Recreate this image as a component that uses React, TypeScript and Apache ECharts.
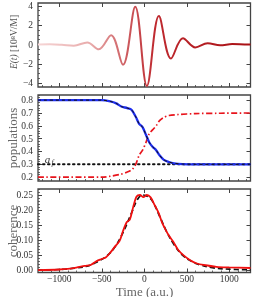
import React, { useEffect, useRef } from "react";
import * as echarts from "echarts";

// ---- Data ----
// Panel 1: electric field E(t) [10^8 V/M] — successive extrema of the pulse
const fieldTime = [-1250, -1110, -970, -830, -670, -535, -390, -250, -106, 31, 172, 314, 455, 600, 745, 893, 1035, 1180, 1250];
const fieldValue = [0, 0.02, -0.03, -0.12, 0.22, -0.5, 0.97, -2.1, 3.9, -4.3, 2.95, -1.45, 0.65, -0.3, 0.14, -0.08, 0.05, 0.01, 0];

// Panel 2: populations
const popTime = [-1250, -500, -400, -330, -270, -200, -150, -100, -60, -20, 20, 60, 100, 140, 180, 230, 290, 350, 450, 600, 1250];
const popBlue = [0.8, 0.8, 0.79, 0.775, 0.75, 0.738, 0.725, 0.67, 0.615, 0.59, 0.53, 0.47, 0.435, 0.41, 0.37, 0.335, 0.318, 0.308, 0.302, 0.3, 0.3];
const popRedTime = [-1250, -500, -400, -280, -200, -140, -100, -60, -20, 20, 60, 100, 140, 180, 230, 290, 400, 600, 900, 1250];
const popRed = [0.2, 0.2, 0.207, 0.222, 0.24, 0.262, 0.3, 0.37, 0.41, 0.47, 0.54, 0.57, 0.6, 0.64, 0.665, 0.68, 0.688, 0.695, 0.698, 0.7];
const afTime = [-1250, 1250];
const afValue = [0.3, 0.3];

// Panel 3: coherence
const cohTime = [-1250, -1000, -900, -800, -700, -630, -560, -500, -450, -400, -340, -290, -250, -205, -170, -130, -90, -50, -10, 30, 75, 125, 170, 210, 250, 290, 340, 400, 460, 540, 620, 700, 850, 1000, 1250];
const cohRed = [0, 0.002, 0.004, 0.008, 0.014, 0.017, 0.03, 0.037, 0.043, 0.058, 0.08, 0.097, 0.13, 0.16, 0.168, 0.21, 0.245, 0.25, 0.243, 0.25, 0.242, 0.215, 0.19, 0.158, 0.135, 0.115, 0.095, 0.067, 0.05, 0.033, 0.022, 0.017, 0.011, 0.009, 0.007];
const cohRefTime = [-1250, -1000, -800, -650, -550, -450, -350, -250, -150, -80, -20, 40, 100, 180, 260, 350, 450, 550, 650, 800, 1000, 1250];
const cohRef = [0, 0.002, 0.007, 0.015, 0.028, 0.045, 0.075, 0.125, 0.19, 0.235, 0.25, 0.245, 0.228, 0.18, 0.13, 0.085, 0.05, 0.03, 0.018, 0.008, 0.003, 0.001];

// Tick values
const xTicks = [-1000, -500, 0, 500, 1000];
const yTicksField = [-4, -2, 0, 2, 4];
const yTicksPop = [0.2, 0.3, 0.4, 0.5, 0.6, 0.7, 0.8];
const yTicksCoh = [0, 0.05, 0.1, 0.15, 0.2, 0.25];

const FONT = "Liberation Serif";
const FRAME = "#444";

function pairs(xs: number[], ys: number[]) {
  return xs.map((x, i) => [x, ys[i]]);
}
function minorTicks(from: number, to: number, step: number) {
  const out: number[] = [];
  const n = Math.round((to - from) / step);
  for (let i = 0; i <= n; i++) out.push(+(from + i * step).toFixed(4));
  return out;
}
const fmtMinus = (v: number, d = 0) => {
  const s = Math.abs(v).toFixed(d);
  return v < -1e-9 ? "\u2212" + s : s;
};

export default function App() {
  const ref = useRef<HTMLDivElement>(null);
  useEffect(() => {
    if (!ref.current) return;
    const chart = echarts.init(ref.current, undefined, { renderer: "svg" });

    const grids = [
      { left: 38, top: 3, width: 212.5, height: 84 },
      { left: 38, top: 95, width: 212.5, height: 86 },
      { left: 38, top: 189, width: 212.5, height: 83.5 },
    ];
    const yRanges = [
      { min: -4.4, max: 4.3, ticks: yTicksField, minor: minorTicks(-4, 4, 0.5), dec: 0 },
      { min: 0.17, max: 0.84, ticks: yTicksPop, minor: minorTicks(0.18, 0.84, 0.02), dec: 1 },
      { min: -0.008, max: 0.27, ticks: yTicksCoh, minor: minorTicks(0, 0.27, 0.01), dec: 2 },
    ];
    const xMinor = minorTicks(-1200, 1200, 100);

    const baseAxis = (g: number, min: number, max: number, position: string) => ({
      type: "value",
      gridIndex: g,
      min,
      max,
      position,
      axisLine: { show: false, onZero: false },
      splitLine: { show: false },
    });

    const xAxis: any[] = [];
    const yAxis: any[] = [];
    for (let g = 0; g < 3; g++) {
      xAxis.push({
        ...baseAxis(g, -1250, 1250, "bottom"),
        axisTick: { inside: true, length: 4, customValues: xTicks, lineStyle: { color: FRAME, width: 1 } },
        axisLabel: g === 2
          ? { show: true, customValues: xTicks, formatter: (v: number) => fmtMinus(v), fontFamily: FONT, fontSize: 9.5, color: "#333", margin: 1 }
          : { show: false },
      });
      xAxis.push({
        ...baseAxis(g, -1250, 1250, "bottom"),
        axisTick: { inside: true, length: 2, customValues: xMinor, lineStyle: { color: FRAME, width: 0.8 } },
        axisLabel: { show: false },
      });
      xAxis.push({
        ...baseAxis(g, -1250, 1250, "top"),
        axisTick: { inside: true, length: 4, customValues: xTicks, lineStyle: { color: FRAME, width: 1 } },
        axisLabel: { show: false },
      });
      const yr = yRanges[g];
      yAxis.push({
        ...baseAxis(g, yr.min, yr.max, "left"),
        axisTick: { inside: true, length: 4, customValues: yr.ticks, lineStyle: { color: FRAME, width: 1 } },
        axisLabel: { show: true, customValues: yr.ticks, formatter: (v: number) => fmtMinus(v, yr.dec), fontFamily: FONT, fontSize: 9.5, color: "#333", margin: 5 },
      });
      yAxis.push({
        ...baseAxis(g, yr.min, yr.max, "left"),
        axisTick: { inside: true, length: 2, customValues: yr.minor, lineStyle: { color: FRAME, width: 0.8 } },
        axisLabel: { show: false },
      });
      yAxis.push({
        ...baseAxis(g, yr.min, yr.max, "right"),
        axisTick: { inside: true, length: 4, customValues: yr.ticks, lineStyle: { color: FRAME, width: 1 } },
        axisLabel: { show: false },
      });
    }

    const line = (g: number, data: number[][], lineStyle: any, extra: any = {}) => ({
      type: "line",
      xAxisIndex: g * 3,
      yAxisIndex: g * 3,
      data,
      showSymbol: false,
      symbol: "none",
      lineStyle,
      silent: true,
      ...extra,
    });

    const option: any = {
      animation: false,
      grid: grids.map((gr) => ({ ...gr, show: true, borderColor: FRAME, borderWidth: 1.3, backgroundColor: "transparent" })),
      xAxis,
      yAxis,
      series: [
        line(0, pairs(fieldTime, fieldValue), {
          width: 2,
          color: new echarts.graphic.LinearGradient(0, 0, 1, 0, [
            { offset: 0, color: "#f6d6d6" },
            { offset: 0.25, color: "#e8aaaa" },
            { offset: 0.42, color: "#cc5a5e" },
            { offset: 0.55, color: "#bf2a30" },
            { offset: 1, color: "#a81014" },
          ]),
        }, { smooth: 0.36 }),
        line(1, pairs(afTime, afValue), { width: 2, color: "#111", type: [1.5, 3.5], cap: "round" }),
        line(1, pairs(popRedTime, popRed), { width: 1.7, color: "#e8141c", type: [6, 2.5, 1.5, 2.5] }, { smooth: 0.3 }),
        line(1, pairs(popTime, popBlue), { width: 2.3, color: "#1e2ef0" }, { smooth: 0.3 }),
        line(1, pairs(popTime, popBlue), { width: 1, color: "#111", type: [3, 3] }, { smooth: 0.3 }),
        line(2, pairs(cohRefTime, cohRef), { width: 1.7, color: "#111", type: [5, 3] }, { smooth: 0.4 }),
        line(2, pairs(cohTime, cohRed), { width: 1.8, color: "#f01010" }, { smooth: 0.3 }),
      ],
      graphic: [
        {
          type: "text",
          x: 14,
          y: 42,
          rotation: Math.PI / 2,
          style: {
            text: "{i|E(t)} [10\u2078V/M]",
            align: "center",
            verticalAlign: "middle",
            fontFamily: FONT,
            fontSize: 9.5,
            fill: "#555",
            rich: { i: { fontStyle: "italic", fontFamily: FONT, fontSize: 9.5, fill: "#555" } },
          },
        },
        {
          type: "text",
          x: 12.5,
          y: 138,
          rotation: Math.PI / 2,
          style: { text: "populations", align: "center", verticalAlign: "middle", fontFamily: FONT, fontSize: 13, fill: "#666" },
        },
        {
          type: "text",
          x: 12.5,
          y: 231,
          rotation: Math.PI / 2,
          style: { text: "coherence", align: "center", verticalAlign: "middle", fontFamily: FONT, fontSize: 13, fill: "#666" },
        },
        {
          type: "text",
          x: 144.5,
          y: 291,
          style: { text: "Time (a.u.)", align: "center", verticalAlign: "middle", fontFamily: FONT, fontSize: 13, fill: "#666" },
        },
        {
          type: "text",
          x: 47.5,
          y: 158.5,
          style: { text: "a", align: "center", verticalAlign: "middle", fontFamily: FONT, fontStyle: "italic", fontSize: 11, fill: "#333" },
        },
        {
          type: "text",
          x: 52.5,
          y: 162,
          style: { text: "f", align: "center", verticalAlign: "middle", fontFamily: FONT, fontStyle: "italic", fontSize: 7.5, fill: "#333" },
        },
      ],
    };
    chart.setOption(option);
    return () => chart.dispose();
  }, []);
  return <div ref={ref} style={{ position: "fixed", left: 0, top: 0, width: 255, height: 297 }} />;
}
